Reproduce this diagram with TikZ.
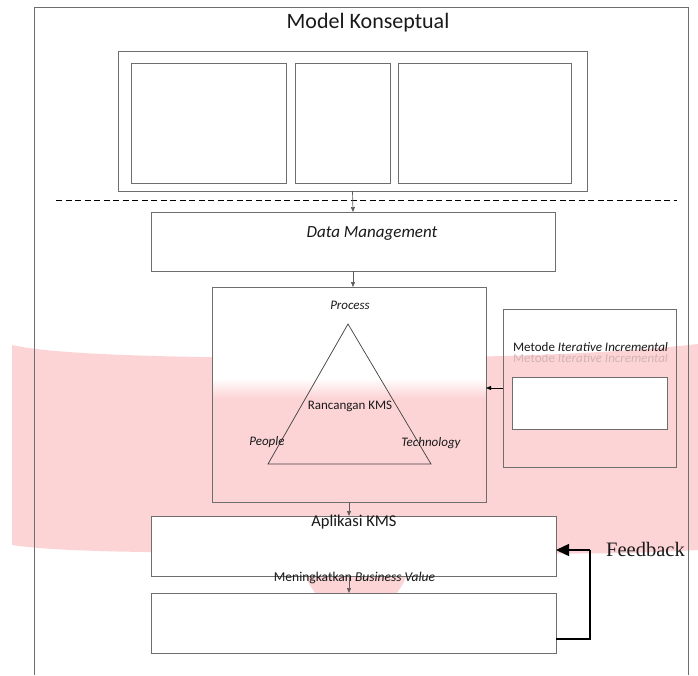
\documentclass[tikz,border=0pt]{standalone}
\usepackage{fontspec}
\setmainfont{Carlito}
\newfontfamily\serifcap{Liberation Serif}
\usetikzlibrary{arrows.meta}
\definecolor{pinkband}{RGB}{252,212,214}
\definecolor{boxline}{RGB}{110,110,110}
\definecolor{arrgray}{RGB}{90,90,90}
\tikzset{
  boxnode/.style={draw=boxline, line width=0.9pt, inner sep=0pt, outer sep=0pt},
  whitebox/.style={boxnode, fill=white},
  grayarr/.style={draw=arrgray, line width=0.7pt, -{Triangle[length=5pt,width=4pt]}},
  blackarr/.style={draw=black, line width=0.8pt, -{Triangle[length=5pt,width=4pt]}},
  fbarr/.style={draw=black, line width=1.4pt, -{Triangle[length=13pt,width=12pt]}},
  lbl/.style={inner sep=0pt, text=black!90},
}
\begin{document}
\begin{tikzpicture}[x=1pt,y=-1pt]
\useasboundingbox (0,0) rectangle (698,675);
\fill[white] (0,0) rectangle (698,675);
% pink watermark band
\fill[pinkband] (12,345) .. controls (60,356) and (200,358) .. (350,358)
  .. controls (500,358) and (620,353) .. (698,344) -- (698,550)
  .. controls (620,554) .. (350,553) .. controls (150,553) and (60,552) .. (12,545) -- cycle;
\fill[pinkband] (356,559) circle (53);
% white top part inside the design box, fading into the band
\fill[white] (212,287) rectangle (486,378);
\shade[top color=white, bottom color=pinkband] (212,378) rectangle (486,398);
% outer frame
\draw[boxline, line width=0.9pt] (34,675) -- (34,7) -- (688,7) -- (688,675);
\node[lbl, font=\fontsize{22}{26}\selectfont] (title) at (368,23) {Model Konseptual};
% top group
\node[whitebox, minimum width=469, minimum height=140] (box1) at (352.5,121) {};
\node[whitebox, minimum width=155, minimum height=120] (in1) at (208.5,123) {};
\node[whitebox, minimum width=95, minimum height=120] (in2) at (342.5,123) {};
\node[whitebox, minimum width=173, minimum height=120] (in3) at (484.5,123) {};
% dashed separator
\coordinate (dl) at (56,200);
\coordinate (dr) at (677,200);
\draw[black, line width=0.8pt, dash pattern=on 6pt off 3.5pt] (dl) -- (dr);
% data management
\node[whitebox, minimum width=404, minimum height=59] (dm) at (353,241.5) {};
\node[lbl, font=\fontsize{17}{20}\selectfont\itshape] (dmt) at (372,233) {Data Management};
\draw[grayarr] (box1.south) -- (dm.north);
% rancangan box
\node[boxnode, minimum width=274, minimum height=215] (rk) at (349,394.5) {};
\draw[grayarr] (dm.south) -- (dm.south |- rk.north);
\coordinate (tA) at (348,324);
\coordinate (tB) at (268,464);
\coordinate (tC) at (431,464);
\draw[black!75, line width=0.7pt] (tA) -- (tB) -- (tC) -- cycle;
\node[lbl, font=\fontsize{13}{15}\selectfont\itshape] (proc) at (350,305) {Process};
\node[lbl, font=\fontsize{13}{15}\selectfont] (rkt) at (350,406) {Rancangan KMS};
\node[lbl, font=\fontsize{13}{15}\selectfont\itshape] (ppl) at (267,442) {People};
\node[lbl, font=\fontsize{13}{15}\selectfont\itshape] (tech) at (431,443) {Technology};
% metode box
\node[boxnode, minimum width=173, minimum height=158] (mt) at (589.5,388) {};
\begin{scope}
  \clip (505,354) rectangle (675,362);
  \node[lbl, font=\fontsize{13}{15}\selectfont, opacity=0.18] (mtr) at (590.5,358.5) {Metode \textit{Iterative Incremental}};
\end{scope}
\node[lbl, font=\fontsize{13}{15}\selectfont] (mtt) at (590.5,347) {Metode \textit{Iterative Incremental}};
\node[whitebox, minimum width=155, minimum height=52] (mtin) at (589.5,403) {};
\draw[blackarr] (mt.west) -- (mt.west -| rk.east);
% aplikasi
\node[whitebox, minimum width=405, minimum height=60] (ap) at (353.5,546) {};
\node[lbl, font=\fontsize{16.5}{19}\selectfont] (apt) at (354,522) {Aplikasi KMS};
\draw[grayarr] (rk.south) -- (rk.south |- ap.north);
% business value
\node[whitebox, minimum width=405, minimum height=60] (bv) at (353.5,623) {};
\node[lbl, font=\fontsize{13.5}{15}\selectfont] (bvt) at (354.5,578) {Meningkatkan \textit{Business Value}};
\draw[grayarr] (rk.south |- ap.south) -- (rk.south |- bv.north);
% feedback loop
\coordinate (fb1) at (590,639);
\coordinate (fb2) at (590,550);
\draw[black, line width=1.2pt] (bv.east |- fb1) -- (fb1) -- (fb2);
\draw[fbarr] (fb2) -- (ap.east |- fb2);
\node[lbl, font=\serifcap\fontsize{20.5}{24}\selectfont] (fbt) at (645.5,549) {Feedback};
\end{tikzpicture}
\end{document}
